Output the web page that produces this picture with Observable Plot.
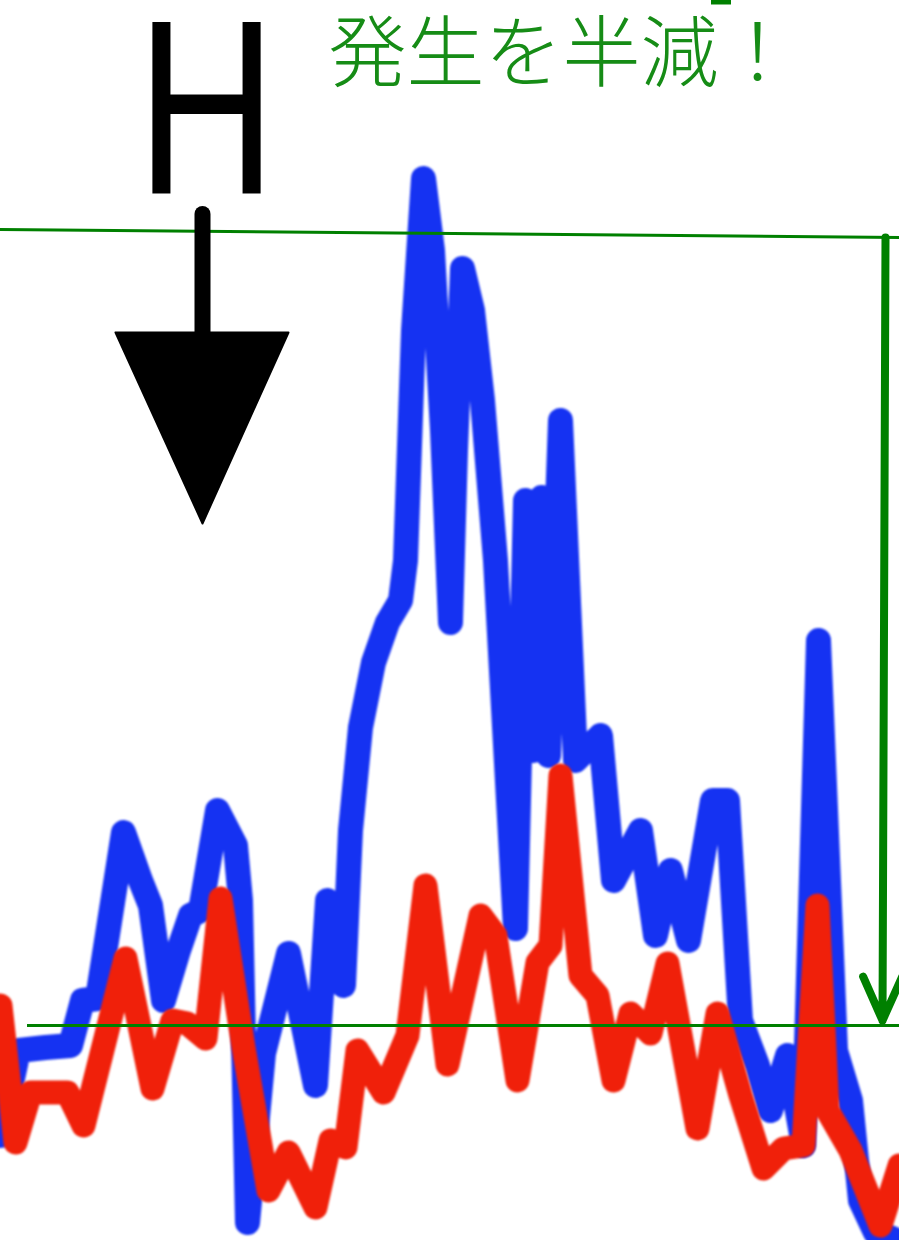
<!DOCTYPE html>
<html><head><meta charset="utf-8">
<script src="https://cdn.jsdelivr.net/npm/d3@7"></script>
<script src="https://cdn.jsdelivr.net/npm/@observablehq/plot@0.6"></script>
<style>html,body{margin:0;padding:0;background:#fff;} #chart svg{display:block}</style>
</head><body><div id="chart"></div>
<script>
// time index (arbitrary units) and values
const blueT = [0,1.8,4.5,7.0,8.2,9.7,12.3,14.0,15.0,16.3,17.8,19.0,20.0,21.7,23.5,24.0,24.7,26.3,28.8,31.5,32.7,34.3,35.0,36.0,37.3,38.7,40.0,40.5,41.3,42.3,43.2,44.2,45.0,45.5,46.2,47.2,48.2,49.5,50.8,51.5,52.5,53.3,54.1,54.8,56.0,57.5,60.0,61.3,64.0,65.5,67.0,68.8,71.2,72.7,74.0,75.7,77.0,78.7,80.3,81.8,83.5,85.0,86.0,87.5,89.2];
const blueV = [10.5,19.0,19.3,19.5,24.0,24.2,40.8,36.0,33.5,24.0,29.0,32.5,33.0,43.0,39.5,34.0,1.8,18.7,28.7,15.5,34.0,25.5,41.0,51.3,57.8,61.8,64.0,68.0,91.0,106.2,99.0,81.0,61.8,79.0,97.2,93.0,84.0,68.0,44.0,31.2,74.0,49.0,74.3,48.5,82.0,48.0,50.5,36.0,41.0,30.5,37.0,30.0,44.0,44.0,22.0,17.5,13.0,18.5,9.5,60.0,19.0,14.0,4.0,0.8,0.2];
const redT = [0,1.5,3.0,6.7,8.3,12.5,15.2,17.2,18.7,20.5,22.0,24.3,26.8,28.8,31.5,33.0,34.5,35.7,38.3,40.7,42.5,44.7,48.0,49.5,51.7,53.7,55.0,56.0,58.0,59.7,61.3,63.0,65.0,66.7,69.7,71.7,74.0,76.3,78.3,80.3,81.7,82.7,85.0,88.0,89.9];
const redV = [23.5,9.8,14.8,14.8,11.5,28.2,15.2,22.0,21.7,20.2,34.2,19.3,5.0,8.8,3.3,10.0,9.3,19.0,14.8,20.5,35.5,17.6,32.5,30.5,16.0,27.8,29.5,46.5,26.5,24.5,16.0,22.7,20.7,27.7,11.2,22.7,14.5,7.2,9.2,9.5,33.5,13.0,9.0,1.5,7.5];

const upperLine = [{t:0, v:101.1}, {t:89.9, v:100.3}];
const lowerLevel = 21.5;
const dropArrow = [{t1:88.5, v1:100.3, t2:88.2, v2:22.0}];
const hShaft = [{t:20.2, v1:102.6, v2:90.5}];
const hHead = [{t:11.5, v:90.8}, {t:28.8, v:90.8}, {t:20.2, v:71.7}, {t:11.5, v:90.8}];
const labels = [{t:32.8, v:116.0, text:"発生を半減！"}];
const markLabels = [{t:13.6, v:104.8, text:"H"}];
const topDash = [{t1:71.1, t2:73.1, v:123.85}];

const blue = blueT.map((t,i)=>({t, v: blueV[i]}));
const red = redT.map((t,i)=>({t, v: redV[i]}));
const GREEN = "#008000";

const plot = Plot.plot({
  width: 899, height: 1240, margin: 0,
  x: {domain:[0,89.9], axis:null},
  y: {domain:[0,124], axis:null},
  style: {background:"white", overflow:"hidden"},
  marks: [
    Plot.line(blue, {x:"t", y:"v", stroke:"#1532f2", strokeWidth:25, strokeLinejoin:"round", strokeLinecap:"round"}),
    Plot.line(red, {x:"t", y:"v", stroke:"#f0200a", strokeWidth:24, strokeLinejoin:"round", strokeLinecap:"round"}),
    Plot.line(upperLine, {x:"t", y:"v", stroke:GREEN, strokeWidth:3}),
    Plot.ruleY([lowerLevel], {x1:2.7, x2:89.9, stroke:GREEN, strokeWidth:3}),
    Plot.arrow(dropArrow, {x1:"t1", y1:"v1", x2:"t2", y2:"v2", stroke:GREEN, strokeWidth:8, headLength:9, headAngle:48, strokeLinecap:"round", strokeLinejoin:"round"}),
    Plot.ruleX(hShaft, {x:"t", y1:"v1", y2:"v2", stroke:"black", strokeWidth:16, strokeLinecap:"round"}),
    Plot.line(hHead, {x:"t", y:"v", fill:"black", stroke:"black", strokeWidth:2}),
    Plot.ruleY(topDash, {x1:"t1", x2:"t2", y:"v", stroke:GREEN, strokeWidth:5}),
    Plot.text(labels, {x:"t", y:"v", text:"text", fill:"#168c16", fontSize:78, fontWeight:300, fontFamily:"'Noto Sans CJK JP', sans-serif", textAnchor:"start", lineAnchor:"bottom"}),
    Plot.text(markLabels, {x:"t", y:"v", text:"text", fill:"black", fontSize:248, fontFamily:"'Liberation Sans', Arial, sans-serif", textAnchor:"start", lineAnchor:"bottom"})
  ]
});
plot.querySelectorAll("text").forEach(t => {
  if (t.textContent === "H") {
    t.setAttribute("textLength", 140);
    t.setAttribute("lengthAdjust", "spacingAndGlyphs");
  }
});
const lineGroups = plot.querySelectorAll('g[aria-label="line"]');
[lineGroups[0], lineGroups[1]].forEach(g => g && (g.style.filter = "blur(0.8px)"));
document.getElementById("chart").appendChild(plot);
</script>
</body></html>
